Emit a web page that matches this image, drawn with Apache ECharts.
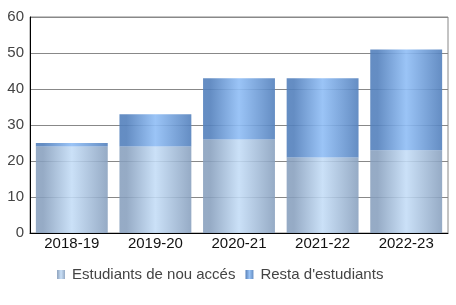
<!DOCTYPE html>
<html><head><meta charset="utf-8">
<script src="https://cdn.jsdelivr.net/npm/echarts@6/dist/echarts.min.js"></script>
<style>html,body{margin:0;padding:0;background:#fff}#c{width:456px;height:305px}</style>
</head><body><div id="c"></div>
<script>
const categories = ['2018-19','2019-20','2020-21','2021-22','2022-23'];
const nouAcces = [24, 24, 26, 21, 23];
const resta = [1, 9, 17, 22, 28];
const seriesNames = ['Estudiants de nou accés', "Resta d'estudiants"];

function grad(edge, mid) {
  return new echarts.graphic.LinearGradient(0, 0, 1, 0, [
    {offset: 0, color: edge}, {offset: 0.1, color: edge},
    {offset: 0.5, color: mid}, {offset: 1, color: edge}
  ]);
}
const chart = echarts.init(document.getElementById('c'), null, {renderer: 'canvas'});
chart.setOption({
  animation: false,
  textStyle: {fontFamily: 'Liberation Sans'},
  grid: {left: 30, right: 8, top: 17, bottom: 72, show: true, borderColor: '#888', borderWidth: 1},
  legend: {
    bottom: 18, left: 52, itemWidth: 8, itemHeight: 9, itemGap: 10, icon: 'rect',
    textStyle: {fontSize: 15, color: '#444', fontFamily: 'Liberation Sans', padding: [0, 0, 0, 2]},
    data: seriesNames
  },
  xAxis: {
    type: 'category', data: categories,
    axisLine: {lineStyle: {color: '#000', width: 1}},
    axisTick: {show: false},
    axisLabel: {fontSize: 15, color: '#111', margin: 3}
  },
  yAxis: {
    type: 'value', min: 0, max: 60, interval: 10,
    axisLine: {show: true, lineStyle: {color: '#000'}},
    axisTick: {show: false},
    splitLine: {lineStyle: {color: '#888'}},
    axisLabel: {fontSize: 15, color: '#444', margin: 6}
  },
  series: [
    {name: seriesNames[0], type: 'bar', stack: 's', data: nouAcces, barCategoryGap: '14%',
     itemStyle: {color: grad('#879fbd', '#c3dcf6'), opacity: 0.88}},
    {name: seriesNames[1], type: 'bar', stack: 's', data: resta,
     itemStyle: {color: grad('#5481bd', '#90bef6'), opacity: 0.9}}
  ]
});
</script></body></html>
